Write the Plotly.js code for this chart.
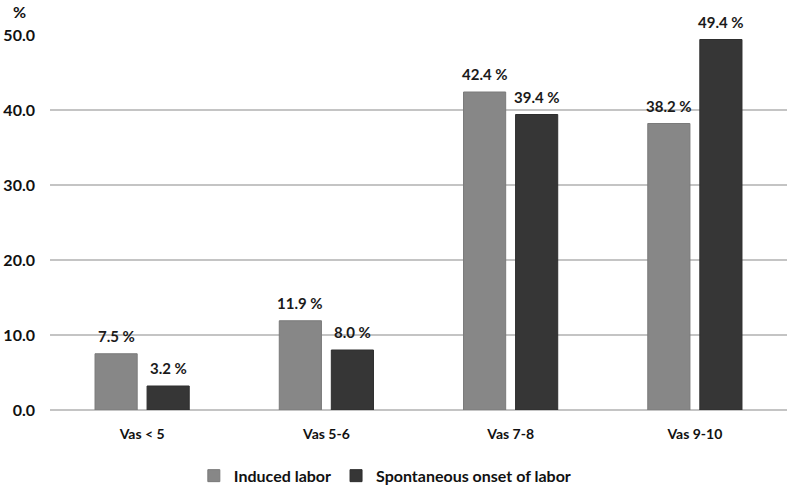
<!DOCTYPE html>
<html>
<head>
<meta charset="utf-8">
<script src="https://cdn.plot.ly/plotly-3.0.1.min.js"></script>
<style>html,body{margin:0;padding:0;background:#fff;}#chart{width:787px;height:493px;}</style>
</head>
<body>
<div id="chart"></div>
<script>
const categories = ["Vas < 5", "Vas 5-6", "Vas 7-8", "Vas 9-10"];
const induced = [7.5, 11.9, 42.4, 38.2];
const spontaneous = [3.2, 8.0, 39.4, 49.4];
const seriesNames = ["Induced labor", "Spontaneous onset of labor"];
const yTicks = [0, 10, 20, 30, 40, 50];

const FONT = "Lato, 'Open Sans', sans-serif";
const fmt = v => v.toFixed(1) + " %";

const traces = [
  {
    type: "bar", name: seriesNames[0], x: categories, y: induced,
    marker: {color: "#878787", line: {color: "#7a7a7a", width: 1}}
  },
  {
    type: "bar", name: seriesNames[1], x: categories, y: spontaneous,
    marker: {color: "#363636", line: {color: "#2e2e2e", width: 1}}
  }
];

// value labels above bars (offset left/right to sit over each bar of the group)
const labelFont = {family: FONT, size: 15, color: "#1a1a1a", weight: "bold"};
const annotations = [];
[[induced, -26], [spontaneous, 26]].forEach(([vals, dx]) => {
  vals.forEach((v, i) => {
    annotations.push({x: categories[i], y: v, xref: "x", yref: "y",
      text: fmt(v), showarrow: false, xanchor: "center", yanchor: "bottom",
      xshift: dx, yshift: 7, font: labelFont});
  });
});
annotations.push({text: "%", xref: "paper", yref: "paper", x: -0.041, y: 1.063,
  xanchor: "center", yanchor: "middle", showarrow: false,
  font: {family: FONT, size: 16, color: "#111", weight: "bold"}});

const layout = {
  width: 787, height: 493,
  margin: {l: 50, r: 0, t: 35, b: 83},
  paper_bgcolor: "#fff", plot_bgcolor: "#fff",
  font: {family: FONT, size: 14, color: "#111", weight: "bold"},
  barmode: "group", bargap: 0.435, bargroupgap: 0.19,
  showlegend: true,
  legend: {orientation: "h", x: 0.455, xanchor: "center", y: -0.13, yanchor: "top",
           font: {family: FONT, size: 16, color: "#111", weight: "bold"},
           itemwidth: 30, traceorder: "normal"},
  xaxis: {showgrid: false, showline: false, zeroline: false, ticks: "",
          ticklabelstandoff: 14,
          tickfont: {family: FONT, size: 14, color: "#111", weight: "bold"}},
  yaxis: {range: [0, 50], tickvals: yTicks, ticktext: yTicks.map(v => v.toFixed(1)),
          showgrid: true, gridcolor: "#c4c4c4", gridwidth: 1.5,
          zeroline: true, zerolinecolor: "#c4c4c4", zerolinewidth: 1.5,
          showline: false, ticks: "", ticklabelstandoff: 14,
          tickfont: {family: FONT, size: 16, color: "#111", weight: "bold"}},
  annotations: annotations
};

Plotly.newPlot("chart", traces, layout, {displayModeBar: false, staticPlot: true});
</script>
</body>
</html>
